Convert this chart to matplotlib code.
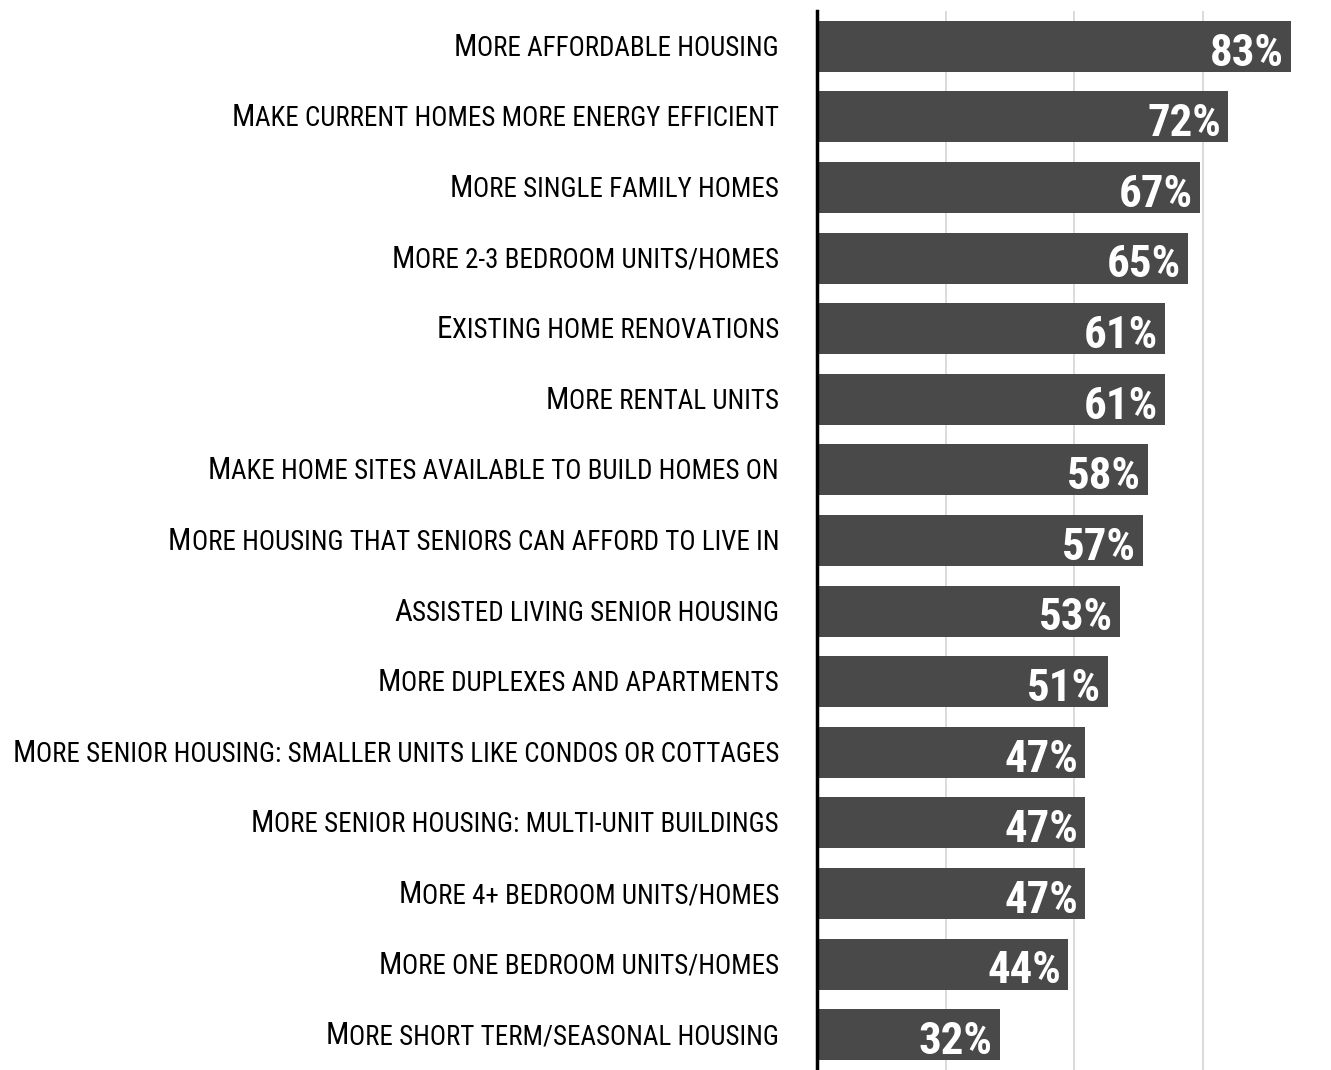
import matplotlib
matplotlib.use("Agg")
import matplotlib.pyplot as plt
from matplotlib.transforms import offset_copy
from matplotlib import font_manager as fm
from matplotlib.font_manager import FontProperties
from matplotlib.textpath import TextToPath
from matplotlib.ft2font import FT2Font

labels = [
    "More affordable housing",
    "Make current homes more energy efficient",
    "More single family homes",
    "More 2-3 bedroom units/homes",
    "Existing home renovations",
    "More rental units",
    "Make home sites available to build homes on",
    "More housing that seniors can afford to live in",
    "Assisted living senior housing",
    "More duplexes and apartments",
    "More senior housing: smaller units like condos or cottages",
    "More senior housing: multi-unit buildings",
    "More 4+ bedroom units/homes",
    "More one bedroom units/homes",
    "More short term/seasonal housing",
]
values = [83, 72, 67, 65, 61, 61, 58, 57, 53, 51, 47, 47, 47, 44, 32]

BAR = "#494949"
RATIO = 1.15
ALLOWED = ("DejaVu", "Liberation", "Noto Sans", "Roboto", "Open Sans", "Lato", "Inter")
ttp = TextToPath()


def prop_of(fname, size, weight="normal"):
    if fname:
        return FontProperties(fname=fname, size=size)
    return FontProperties(family="DejaVu Sans", size=size, weight=weight)


def measure(s, prop):
    w, h, d = ttp.get_text_width_height_descent(s, prop, ismath=False)
    return w, h


def label_width(lab, fname, size):
    w1, _ = measure(lab[1:].upper(), prop_of(fname, size))
    w0, _ = measure(lab[0], prop_of(fname, size * RATIO))
    return w0 + w1


def covers(fname, chars):
    try:
        ft = FT2Font(fname)
        return all(ft.get_char_index(ord(c)) != 0 for c in chars if c != " ")
    except Exception:
        return False


longest = max(labels, key=len)
label_chars = set("".join(l[0] + l[1:].upper() for l in labels))
value_chars = set("0123456789%")


def closest(bold, target, sample, hchar, use_label, chars):
    best, best_d = None, 1e9
    seen = set()
    for f in fm.fontManager.ttflist:
        if f.style != "normal" or f.fname in seen:
            continue
        if not f.fname.lower().endswith((".ttf", ".otf")):
            continue
        if not f.name.startswith(ALLOWED):
            continue
        w = f.weight if isinstance(f.weight, int) else 400
        if bold and w < 600:
            continue
        if not bold and not (350 <= w <= 450):
            continue
        if "CJK" in f.name or "Mono" in f.name or "Serif" in f.name:
            continue
        seen.add(f.fname)
        if not covers(f.fname, chars):
            continue
        try:
            if use_label:
                ww = label_width(sample, f.fname, 10)
            else:
                ww, _ = measure(sample, prop_of(f.fname, 10))
            _, hh = measure(hchar, prop_of(f.fname, 10))
            r = ww / hh if hh > 0 else 1e9
        except Exception:
            continue
        d = abs(r - target)
        if d < best_d:
            best_d, best = d, f.fname
    return best


# reference proportions: longest label 767 px wide, small-cap height 26 px
reg_file = closest(False, 767 / 26.0, longest, "H", True, label_chars)
# value labels: "83%" 67 px wide, digits 37 px tall
bold_file = closest(True, 67 / 37.0, "83%", "8", False, value_chars)

W, H = 1331, 1070
PX = 100 / 72.0
fig = plt.figure(figsize=(W / 100, H / 100), dpi=100)
ax = fig.add_axes([817 / W, 0, (W - 817) / W, (H - 11) / H])

y = list(range(len(labels)))
ax.barh(y, values, height=0.72, color=BAR, zorder=2)
ax.set_xlim(0, 90)
ax.set_ylim(len(labels) - 0.5, -0.5)

for gx in [22.5, 45, 67.5]:
    ax.axvline(gx, color="#d4d4d4", lw=1.2, zorder=1)

for s in ["top", "right", "bottom"]:
    ax.spines[s].set_visible(False)
ax.spines["left"].set_linewidth(2.5)
ax.spines["left"].set_color("black")
ax.spines["left"].set_zorder(3)
ax.set_xticks([])
ax.set_yticks([])

# category labels with small-caps emulation
wl = label_width(longest, reg_file, 10)
_, cap10 = measure("H", prop_of(reg_file, 10))
size_w = 10 * 767 / (wl * PX)
size_h = 10 * 26 / (cap10 * PX)
lsize = min(size_w, size_h)
_, caph = measure("H", prop_of(reg_file, lsize))
cap_px = caph * PX

lab_tr = offset_copy(ax.transData, fig=fig, x=-38, y=-cap_px / 2, units="dots")
for i, lab in enumerate(labels):
    first, rest = lab[0], lab[1:].upper()
    t = ax.text(0, i, rest, transform=lab_tr, ha="right", va="baseline",
                fontproperties=prop_of(reg_file, lsize), color="black", clip_on=False)
    ax.annotate(first, xy=(0, i), xycoords=(t, lab_tr), ha="right", va="baseline",
                fontproperties=prop_of(reg_file, lsize * RATIO), color="black",
                annotation_clip=False)

# value labels
pb10 = prop_of(bold_file, 10, "bold")
wv, _ = measure("83%", pb10)
_, hv = measure("8", pb10)
vsize = min(10 * 74 / (wv * PX), 10 * 37 / (hv * PX))
_, hvs = measure("8", prop_of(bold_file, vsize, "bold"))
val_tr = offset_copy(ax.transData, fig=fig, x=-7, y=-(hvs * PX) / 2 - 3, units="dots")
for i, v in enumerate(values):
    ax.text(v, i, f"{v}%", transform=val_tr, ha="right", va="baseline",
            fontproperties=prop_of(bold_file, vsize, "bold"), color="white", zorder=4)

fig.savefig("out.png", dpi=100)
